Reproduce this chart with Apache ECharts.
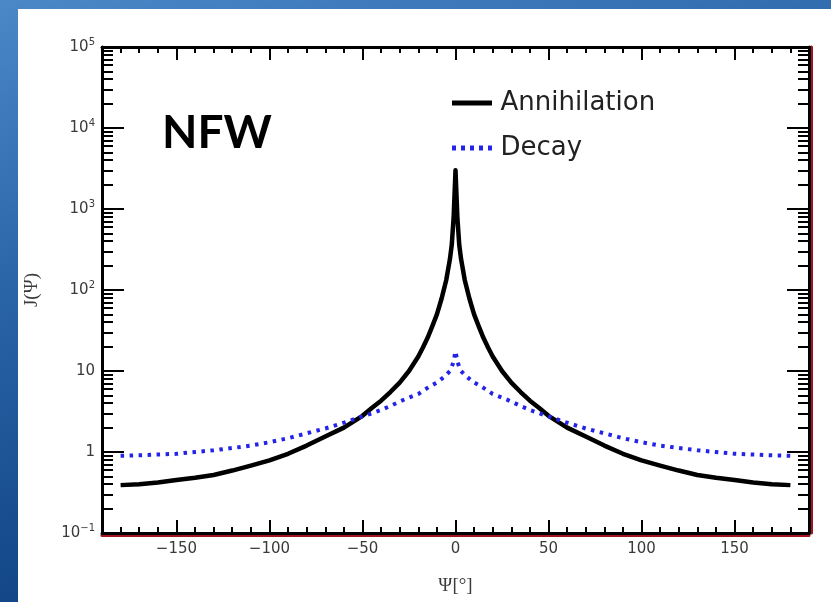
<!DOCTYPE html>
<html>
<head>
<meta charset="utf-8">
<script src="https://cdn.jsdelivr.net/npm/echarts@6/dist/echarts.min.js"></script>
<style>
  html, body { margin: 0; padding: 0; }
  body {
    width: 831px; height: 602px; overflow: hidden; position: relative;
    background: linear-gradient(165deg, #4b88c8 0%, #2a65a8 35%, #14498a 70%, #0c3d78 100%);
  }
  #panel { position: absolute; left: 18px; top: 9px; right: 0; bottom: 0; background: #fff; }
  #chart { position: absolute; left: 0; top: 0; width: 831px; height: 602px; }
</style>
</head>
<body>
<div id="panel"></div>
<div id="chart"></div>
<script>
// Opening angle from the Galactic Centre, degrees
const psi = [-180, -170, -160, -150, -140, -130, -120, -110, -100, -90, -80, -70, -60, -50, -45, -40, -35, -30, -25, -20, -17.5, -15, -12.5, -10, -7.5, -5, -3, -2, -1,
  0, 1, 2, 3, 5, 7.5, 10, 12.5, 15, 17.5, 20, 25, 30, 35, 40, 45, 50, 60, 70, 80, 90, 100, 110, 120, 130, 140, 150, 160, 170, 180];

// J-factor for an NFW halo, annihilation (density squared)
const annihilation = [0.39, 0.40, 0.42, 0.45, 0.48, 0.52, 0.59, 0.68, 0.79, 0.95, 1.2, 1.55, 2.0, 2.8, 3.5, 4.3, 5.5, 7.2, 10, 15.1, 19.5, 25.7, 35.5, 50, 78, 132, 240, 363, 794,
  3000, 794, 363, 240, 132, 78, 50, 35.5, 25.7, 19.5, 15.1, 10, 7.2, 5.5, 4.3, 3.5, 2.8, 2.0, 1.55, 1.2, 0.95, 0.79, 0.68, 0.59, 0.52, 0.48, 0.45, 0.42, 0.40, 0.39];

// J-factor for an NFW halo, decay (density)
const decay = [0.90, 0.91, 0.93, 0.95, 1.0, 1.05, 1.12, 1.2, 1.32, 1.48, 1.7, 1.95, 2.3, 2.75, 3.0, 3.3, 3.7, 4.2, 4.7, 5.2, 5.7, 6.2, 6.7, 7.2, 8.0, 8.9, 10.0, 11.2, 13.2,
  17.5, 13.2, 11.2, 10.0, 8.9, 8.0, 7.2, 6.7, 6.2, 5.7, 5.2, 4.7, 4.2, 3.7, 3.3, 3.0, 2.75, 2.3, 1.95, 1.7, 1.48, 1.32, 1.2, 1.12, 1.05, 1.0, 0.95, 0.93, 0.91, 0.90];

// Axis ticks and labels
const xMajorTicks = [-150, -100, -50, 0, 50, 100, 150];
const xTickLabels = ['\u2212150', '\u2212100', '\u221250', '0', '50', '100', '150'];
const xMinorTicks = [-180, -170, -160, -140, -130, -120, -110, -90, -80, -70, -60, -40, -30, -20, -10,
  10, 20, 30, 40, 60, 70, 80, 90, 110, 120, 130, 140, 160, 170, 180];
const yMajorTicks = [0.1, 1, 10, 100, 1000, 10000, 100000];
const yTickLabels = ['10{sup|\u22121}', '1', '10', '10{sup|2}', '10{sup|3}', '10{sup|4}', '10{sup|5}'];
const yMinorTicks = [0.2, 0.3, 0.4, 0.5, 0.6, 0.7, 0.8, 0.9,
  2, 3, 4, 5, 6, 7, 8, 9,
  20, 30, 40, 50, 60, 70, 80, 90,
  200, 300, 400, 500, 600, 700, 800, 900,
  2000, 3000, 4000, 5000, 6000, 7000, 8000, 9000,
  20000, 30000, 40000, 50000, 60000, 70000, 80000, 90000];

const labelFont = 'DejaVu Sans';
const serifFont = 'Liberation Serif';
const textGrey = '#3a3a3a';

function yLabel(v) {
  for (let i = 0; i < yMajorTicks.length; i++) {
    if (Math.abs(Math.log10(v) - Math.log10(yMajorTicks[i])) < 1e-6) return yTickLabels[i];
  }
  return '';
}
function xLabel(v) {
  const i = xMajorTicks.indexOf(Math.round(v));
  return i >= 0 ? xTickLabels[i] : '';
}

const frame = { color: '#000', width: 3 };
const tickStyle = { color: '#000', width: 2 };

function xAxisDef(position, ticks, len, withLine, withLabels, extraLine) {
  return {
    type: 'value', position: position, min: -190, max: 190,
    axisLine: { show: withLine, onZero: false, lineStyle: Object.assign({}, frame, extraLine || {}) },
    axisTick: { show: true, inside: true, length: len, customValues: ticks, lineStyle: tickStyle },
    axisLabel: withLabels ? {
      show: true, customValues: xMajorTicks, formatter: xLabel, margin: 9,
      fontFamily: labelFont, fontSize: 15, color: textGrey
    } : { show: false },
    splitLine: { show: false },
    name: withLabels ? '\u03A8[\u00B0]' : '',
    nameLocation: 'middle', nameGap: 44,
    nameTextStyle: { fontFamily: serifFont, fontSize: 19, color: textGrey }
  };
}

// Decade ticks and labels on a log axis
function yMajorAxisDef(position, withLabels, extraLine) {
  return {
    type: 'log', logBase: 10, position: position, min: 0.1, max: 100000,
    axisLine: { show: true, onZero: false, lineStyle: Object.assign({}, frame, extraLine || {}) },
    axisTick: { show: true, inside: true, length: 22, customValues: yMajorTicks, lineStyle: tickStyle },
    axisLabel: withLabels ? {
      show: true, customValues: yMajorTicks, formatter: yLabel, margin: 7,
      fontFamily: labelFont, fontSize: 15, color: textGrey,
      rich: { sup: { fontFamily: labelFont, fontSize: 10, color: textGrey, padding: [0, 0, 10, 0] } }
    } : { show: false },
    splitLine: { show: false },
    name: withLabels ? 'J(\u03A8)' : '',
    nameLocation: 'middle', nameGap: 60,
    nameTextStyle: { fontFamily: serifFont, fontSize: 19, color: textGrey }
  };
}

// Sub-decade ticks (2..9) placed on a linear axis in log10 units spanning the same range
function yMinorAxisDef(position) {
  return {
    type: 'value', position: position, min: -1, max: 5,
    axisLine: { show: false, onZero: false },
    axisTick: { show: true, inside: true, length: 11, customValues: yMinorTicks.map(Math.log10), lineStyle: tickStyle },
    axisLabel: { show: false },
    splitLine: { show: false }
  };
}

const chart = echarts.init(document.getElementById('chart'), null, { renderer: 'canvas' });

chart.setOption({
  backgroundColor: 'transparent',
  animation: false,
  title: {
    text: 'NFW', left: 157, top: 105,
    textStyle: { fontFamily: 'Lato', fontWeight: 'bold', fontSize: 46, color: '#000' }
  },
  legend: {
    orient: 'vertical', left: 447, top: 85,
    itemWidth: 41, itemHeight: 5, itemGap: 19,
    textStyle: { fontFamily: labelFont, fontSize: 26, color: '#222', padding: [0, 0, 0, 3] },
    data: [
      { name: 'Annihilation', icon: 'path://M0,0H40V5H0Z' },
      { name: 'Decay', icon: 'path://M0,0h4v5h-4z M9,0h4v5h-4z M18,0h4v5h-4z M27,0h4v5h-4z M36,0h4v5h-4z' }
    ]
  },
  grid: { left: 102, right: 22, top: 47, bottom: 69, containLabel: false, outerBoundsMode: 'none' },
  xAxis: [
    xAxisDef('bottom', xMajorTicks, 13, true, true, { shadowColor: '#a3141d', shadowOffsetY: 2, shadowBlur: 0 }),
    xAxisDef('bottom', xMinorTicks, 6, false, false),
    xAxisDef('top', xMajorTicks, 13, true, false),
    xAxisDef('top', xMinorTicks, 6, false, false)
  ],
  yAxis: [
    yMajorAxisDef('left', true),
    yMinorAxisDef('left'),
    yMajorAxisDef('right', false, { shadowColor: '#a3141d', shadowOffsetX: 2, shadowBlur: 0 }),
    yMinorAxisDef('right')
  ],
  series: [
    {
      name: 'Annihilation', type: 'line', xAxisIndex: 0, yAxisIndex: 0,
      data: psi.map((p, i) => [p, annihilation[i]]),
      symbol: 'none', showSymbol: false, smooth: false,
      lineStyle: { color: '#000', width: 4.5, join: 'round', cap: 'butt' },
      itemStyle: { color: '#000' }
    },
    {
      name: 'Decay', type: 'line', xAxisIndex: 0, yAxisIndex: 0,
      data: psi.map((p, i) => [p, decay[i]]),
      symbol: 'none', showSymbol: false, smooth: false,
      lineStyle: { color: '#2424e8', width: 4, type: [3.5, 5.5] },
      itemStyle: { color: '#2424e8' }
    }
  ]
});
</script>
</body>
</html>
